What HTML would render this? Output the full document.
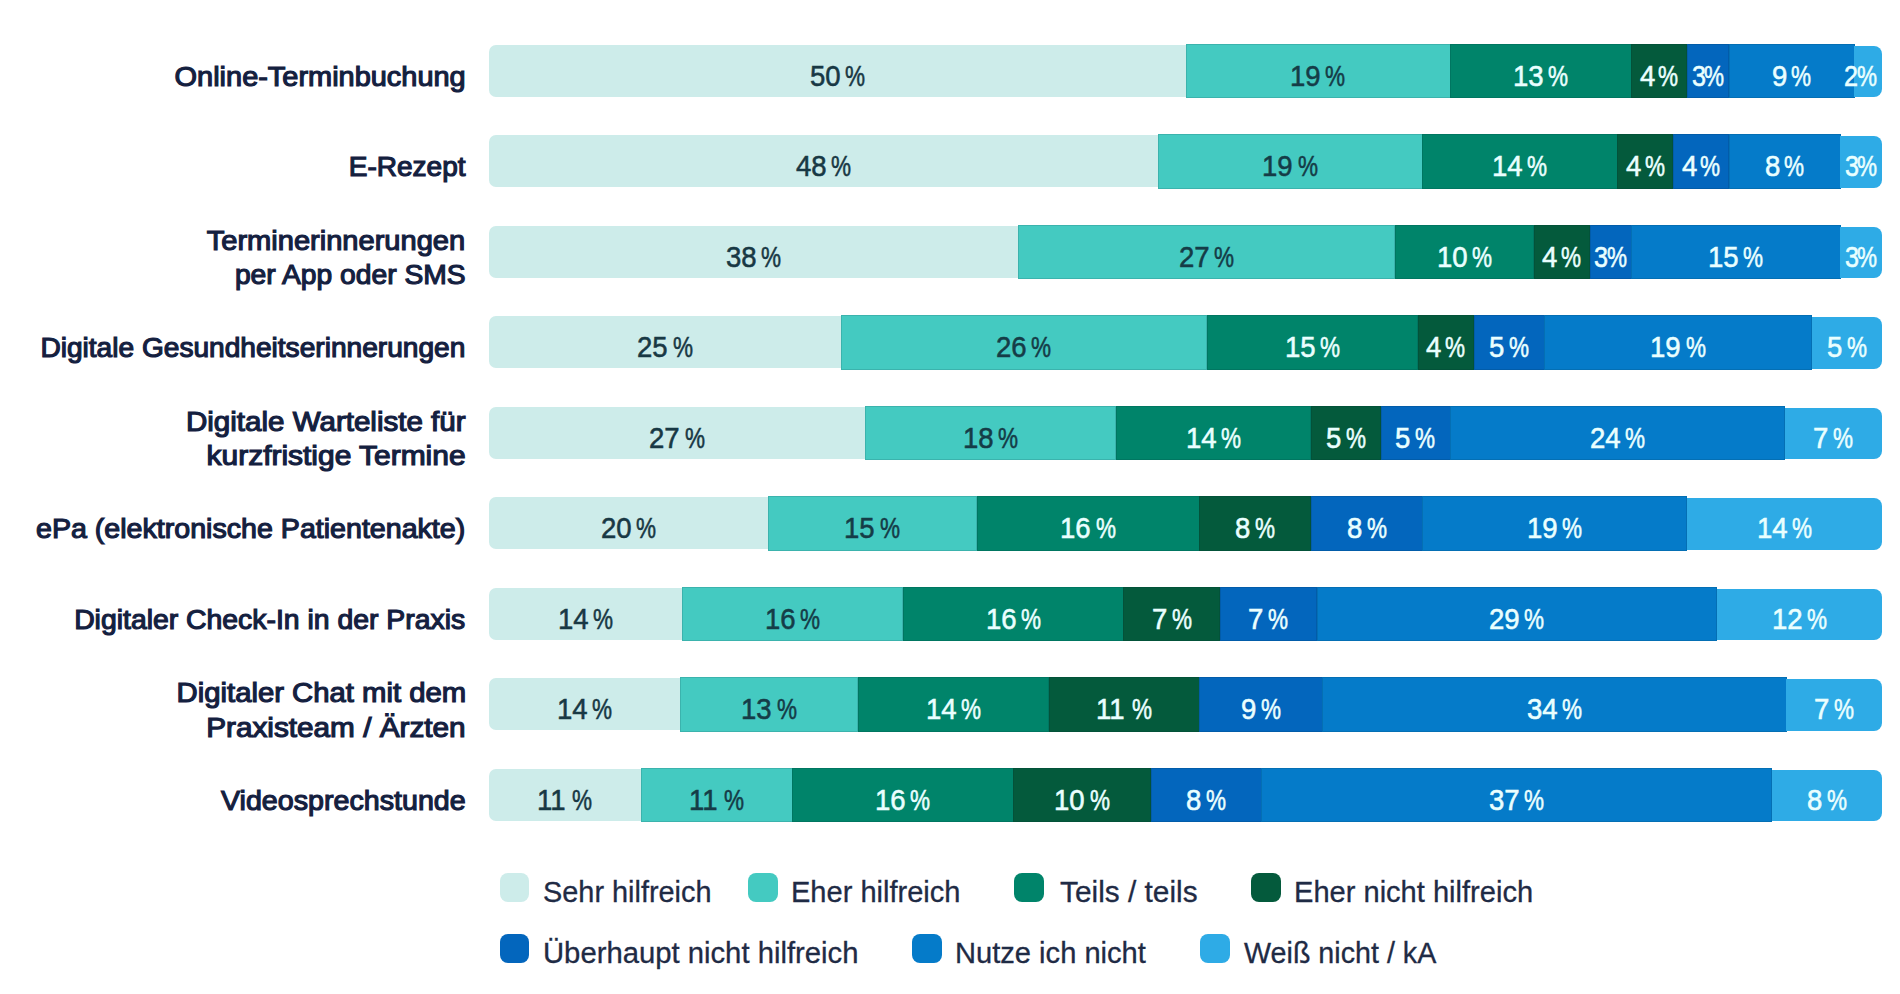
<!DOCTYPE html>
<html lang="de"><head><meta charset="utf-8"><title>Digitale Angebote</title>
<style>
html,body{margin:0;padding:0;background:#fff;}
body{width:1900px;height:994px;position:relative;overflow:hidden;font-family:"Liberation Sans",sans-serif;}
.seg{position:absolute;}
.n{position:absolute;-webkit-text-stroke:0.55px currentColor;white-space:nowrap;font-size:29.3px;line-height:34px;height:34px;transform-origin:0 50%;}
.lab{position:absolute;white-space:nowrap;font-weight:normal;-webkit-text-stroke:1.15px currentColor;color:#14203f;font-size:27.0px;line-height:34px;height:34px;text-align:right;right:1434.4px;transform-origin:100% 50%;}
.sw{position:absolute;width:29.5px;height:28.8px;border-radius:8px;}
.lt{position:absolute;white-space:nowrap;color:#1f2b45;font-size:28.6px;line-height:34px;height:34px;transform-origin:0 50%;-webkit-text-stroke:0.3px currentColor;}
</style></head><body>

<div class="lab" style="top:59.5px;transform:scaleX(1.0714)">Online-Terminbuchung</div>
<div class="seg" style="left:489.0px;top:44.9px;width:697.5px;height:52.1px;background:#cdecea;border-radius:7px 0 0 7px;"></div>
<div class="n" style="left:809.6px;top:58.8px;color:#183844;transform:scaleX(0.94)">50</div>
<div class="n" style="left:844.8px;top:58.8px;color:#183844;transform:scaleX(0.77)">%</div>
<div class="seg" style="left:1185.5px;top:43.7px;width:265.2px;height:54.7px;background:#44cac1;box-shadow:inset 0 0 0 1px rgba(0,30,40,.13);"></div>
<div class="n" style="left:1290.2px;top:58.8px;color:#153c47;transform:scaleX(0.94)">19</div>
<div class="n" style="left:1325.4px;top:58.8px;color:#153c47;transform:scaleX(0.77)">%</div>
<div class="seg" style="left:1450.2px;top:43.7px;width:181.6px;height:54.7px;background:#00846a;box-shadow:inset 0 0 0 1px rgba(0,30,40,.13);"></div>
<div class="n" style="left:1513.1px;top:58.8px;color:#eaffff;transform:scaleX(0.94)">13</div>
<div class="n" style="left:1548.3px;top:58.8px;color:#eaffff;transform:scaleX(0.77)">%</div>
<div class="seg" style="left:1631.3px;top:43.7px;width:56.2px;height:54.7px;background:#045a3c;box-shadow:inset 0 0 0 1px rgba(0,30,40,.13);"></div>
<div class="n" style="left:1639.7px;top:58.8px;color:#eaffff;transform:scaleX(0.94)">4</div>
<div class="n" style="left:1658.4px;top:58.8px;color:#eaffff;transform:scaleX(0.77)">%</div>
<div class="seg" style="left:1687.0px;top:43.7px;width:42.3px;height:54.7px;background:#0366bd;box-shadow:inset 0 0 0 1px rgba(0,30,40,.13);"></div>
<div class="n" style="left:1691.7px;top:58.8px;color:#eaffff;transform:scaleX(0.86)">3</div>
<div class="n" style="left:1704.0px;top:58.8px;color:#eaffff;transform:scaleX(0.77)">%</div>
<div class="seg" style="left:1728.8px;top:43.7px;width:125.9px;height:54.7px;background:#057bc9;box-shadow:inset 0 0 0 1px rgba(0,30,40,.13);"></div>
<div class="n" style="left:1771.5px;top:58.8px;color:#eaffff;transform:scaleX(0.94)">9</div>
<div class="n" style="left:1791.4px;top:58.8px;color:#eaffff;transform:scaleX(0.77)">%</div>
<div class="seg" style="left:1854.1px;top:45.6px;width:27.9px;height:51.6px;background:#2eabe6;border-radius:0 8px 8px 0;"></div>
<div class="n" style="left:1844.4px;top:58.8px;color:#eaffff;transform:scaleX(0.86)">2</div>
<div class="n" style="left:1856.7px;top:58.8px;color:#eaffff;transform:scaleX(0.77)">%</div>
<div class="lab" style="top:150.0px;transform:scaleX(1.0376)">E-Rezept</div>
<div class="seg" style="left:489.0px;top:135.4px;width:669.6px;height:52.1px;background:#cdecea;border-radius:7px 0 0 7px;"></div>
<div class="n" style="left:795.7px;top:149.3px;color:#183844;transform:scaleX(0.94)">48</div>
<div class="n" style="left:830.9px;top:149.3px;color:#183844;transform:scaleX(0.77)">%</div>
<div class="seg" style="left:1157.6px;top:134.2px;width:265.2px;height:54.7px;background:#44cac1;box-shadow:inset 0 0 0 1px rgba(0,30,40,.13);"></div>
<div class="n" style="left:1262.3px;top:149.3px;color:#153c47;transform:scaleX(0.94)">19</div>
<div class="n" style="left:1297.6px;top:149.3px;color:#153c47;transform:scaleX(0.77)">%</div>
<div class="seg" style="left:1422.3px;top:134.2px;width:195.5px;height:54.7px;background:#00846a;box-shadow:inset 0 0 0 1px rgba(0,30,40,.13);"></div>
<div class="n" style="left:1492.2px;top:149.3px;color:#eaffff;transform:scaleX(0.94)">14</div>
<div class="n" style="left:1527.4px;top:149.3px;color:#eaffff;transform:scaleX(0.77)">%</div>
<div class="seg" style="left:1617.3px;top:134.2px;width:56.2px;height:54.7px;background:#045a3c;box-shadow:inset 0 0 0 1px rgba(0,30,40,.13);"></div>
<div class="n" style="left:1625.8px;top:149.3px;color:#eaffff;transform:scaleX(0.94)">4</div>
<div class="n" style="left:1644.5px;top:149.3px;color:#eaffff;transform:scaleX(0.77)">%</div>
<div class="seg" style="left:1673.0px;top:134.2px;width:56.2px;height:54.7px;background:#0366bd;box-shadow:inset 0 0 0 1px rgba(0,30,40,.13);"></div>
<div class="n" style="left:1681.5px;top:149.3px;color:#eaffff;transform:scaleX(0.94)">4</div>
<div class="n" style="left:1700.2px;top:149.3px;color:#eaffff;transform:scaleX(0.77)">%</div>
<div class="seg" style="left:1728.8px;top:134.2px;width:111.9px;height:54.7px;background:#057bc9;box-shadow:inset 0 0 0 1px rgba(0,30,40,.13);"></div>
<div class="n" style="left:1764.5px;top:149.3px;color:#eaffff;transform:scaleX(0.94)">8</div>
<div class="n" style="left:1784.4px;top:149.3px;color:#eaffff;transform:scaleX(0.77)">%</div>
<div class="seg" style="left:1840.2px;top:136.1px;width:41.8px;height:51.6px;background:#2eabe6;border-radius:0 8px 8px 0;"></div>
<div class="n" style="left:1844.9px;top:149.3px;color:#eaffff;transform:scaleX(0.86)">3</div>
<div class="n" style="left:1857.2px;top:149.3px;color:#eaffff;transform:scaleX(0.77)">%</div>
<div class="lab" style="top:223.5px;transform:scaleX(1.076)">Terminerinnerungen</div>
<div class="lab" style="top:258.3px;transform:scaleX(1.0457)">per App oder SMS</div>
<div class="seg" style="left:489.0px;top:225.9px;width:530.3px;height:52.1px;background:#cdecea;border-radius:7px 0 0 7px;"></div>
<div class="n" style="left:726.0px;top:239.8px;color:#183844;transform:scaleX(0.94)">38</div>
<div class="n" style="left:761.3px;top:239.8px;color:#183844;transform:scaleX(0.77)">%</div>
<div class="seg" style="left:1018.3px;top:224.7px;width:376.6px;height:54.7px;background:#44cac1;box-shadow:inset 0 0 0 1px rgba(0,30,40,.13);"></div>
<div class="n" style="left:1178.8px;top:239.8px;color:#153c47;transform:scaleX(0.94)">27</div>
<div class="n" style="left:1214.0px;top:239.8px;color:#153c47;transform:scaleX(0.77)">%</div>
<div class="seg" style="left:1394.5px;top:224.7px;width:139.8px;height:54.7px;background:#00846a;box-shadow:inset 0 0 0 1px rgba(0,30,40,.13);"></div>
<div class="n" style="left:1436.5px;top:239.8px;color:#eaffff;transform:scaleX(0.94)">10</div>
<div class="n" style="left:1471.7px;top:239.8px;color:#eaffff;transform:scaleX(0.77)">%</div>
<div class="seg" style="left:1533.8px;top:224.7px;width:56.2px;height:54.7px;background:#045a3c;box-shadow:inset 0 0 0 1px rgba(0,30,40,.13);"></div>
<div class="n" style="left:1542.2px;top:239.8px;color:#eaffff;transform:scaleX(0.94)">4</div>
<div class="n" style="left:1560.9px;top:239.8px;color:#eaffff;transform:scaleX(0.77)">%</div>
<div class="seg" style="left:1589.5px;top:224.7px;width:42.3px;height:54.7px;background:#0366bd;box-shadow:inset 0 0 0 1px rgba(0,30,40,.13);"></div>
<div class="n" style="left:1594.2px;top:239.8px;color:#eaffff;transform:scaleX(0.86)">3</div>
<div class="n" style="left:1606.5px;top:239.8px;color:#eaffff;transform:scaleX(0.77)">%</div>
<div class="seg" style="left:1631.3px;top:224.7px;width:209.5px;height:54.7px;background:#057bc9;box-shadow:inset 0 0 0 1px rgba(0,30,40,.13);"></div>
<div class="n" style="left:1708.1px;top:239.8px;color:#eaffff;transform:scaleX(0.94)">15</div>
<div class="n" style="left:1743.3px;top:239.8px;color:#eaffff;transform:scaleX(0.77)">%</div>
<div class="seg" style="left:1840.2px;top:226.6px;width:41.8px;height:51.6px;background:#2eabe6;border-radius:0 8px 8px 0;"></div>
<div class="n" style="left:1844.9px;top:239.8px;color:#eaffff;transform:scaleX(0.86)">3</div>
<div class="n" style="left:1857.2px;top:239.8px;color:#eaffff;transform:scaleX(0.77)">%</div>
<div class="lab" style="top:331.0px;transform:scaleX(1.0407)">Digitale Gesundheitserinnerungen</div>
<div class="seg" style="left:489.0px;top:316.4px;width:352.8px;height:52.1px;background:#cdecea;border-radius:7px 0 0 7px;"></div>
<div class="n" style="left:637.2px;top:330.3px;color:#183844;transform:scaleX(0.94)">25</div>
<div class="n" style="left:672.5px;top:330.3px;color:#183844;transform:scaleX(0.77)">%</div>
<div class="seg" style="left:840.8px;top:315.2px;width:366.3px;height:54.7px;background:#44cac1;box-shadow:inset 0 0 0 1px rgba(0,30,40,.13);"></div>
<div class="n" style="left:996.0px;top:330.3px;color:#153c47;transform:scaleX(0.94)">26</div>
<div class="n" style="left:1031.3px;top:330.3px;color:#153c47;transform:scaleX(0.77)">%</div>
<div class="seg" style="left:1206.6px;top:315.2px;width:211.6px;height:54.7px;background:#00846a;box-shadow:inset 0 0 0 1px rgba(0,30,40,.13);"></div>
<div class="n" style="left:1284.5px;top:330.3px;color:#eaffff;transform:scaleX(0.94)">15</div>
<div class="n" style="left:1319.7px;top:330.3px;color:#eaffff;transform:scaleX(0.77)">%</div>
<div class="seg" style="left:1417.7px;top:315.2px;width:56.8px;height:54.7px;background:#045a3c;box-shadow:inset 0 0 0 1px rgba(0,30,40,.13);"></div>
<div class="n" style="left:1426.4px;top:330.3px;color:#eaffff;transform:scaleX(0.94)">4</div>
<div class="n" style="left:1445.1px;top:330.3px;color:#eaffff;transform:scaleX(0.77)">%</div>
<div class="seg" style="left:1473.9px;top:315.2px;width:70.9px;height:54.7px;background:#0366bd;box-shadow:inset 0 0 0 1px rgba(0,30,40,.13);"></div>
<div class="n" style="left:1489.1px;top:330.3px;color:#eaffff;transform:scaleX(0.94)">5</div>
<div class="n" style="left:1509.1px;top:330.3px;color:#eaffff;transform:scaleX(0.77)">%</div>
<div class="seg" style="left:1544.3px;top:315.2px;width:267.8px;height:54.7px;background:#057bc9;box-shadow:inset 0 0 0 1px rgba(0,30,40,.13);"></div>
<div class="n" style="left:1650.3px;top:330.3px;color:#eaffff;transform:scaleX(0.94)">19</div>
<div class="n" style="left:1685.6px;top:330.3px;color:#eaffff;transform:scaleX(0.77)">%</div>
<div class="seg" style="left:1811.6px;top:317.1px;width:70.4px;height:51.6px;background:#2eabe6;border-radius:0 8px 8px 0;"></div>
<div class="n" style="left:1826.8px;top:330.3px;color:#eaffff;transform:scaleX(0.94)">5</div>
<div class="n" style="left:1846.8px;top:330.3px;color:#eaffff;transform:scaleX(0.77)">%</div>
<div class="lab" style="top:404.5px;transform:scaleX(1.094)">Digitale Warteliste für</div>
<div class="lab" style="top:439.3px;transform:scaleX(1.1089)">kurzfristige Termine</div>
<div class="seg" style="left:489.0px;top:406.9px;width:377.1px;height:52.1px;background:#cdecea;border-radius:7px 0 0 7px;"></div>
<div class="n" style="left:649.4px;top:420.8px;color:#183844;transform:scaleX(0.94)">27</div>
<div class="n" style="left:684.6px;top:420.8px;color:#183844;transform:scaleX(0.77)">%</div>
<div class="seg" style="left:865.1px;top:405.7px;width:251.2px;height:54.7px;background:#44cac1;box-shadow:inset 0 0 0 1px rgba(0,30,40,.13);"></div>
<div class="n" style="left:962.8px;top:420.8px;color:#153c47;transform:scaleX(0.94)">18</div>
<div class="n" style="left:998.1px;top:420.8px;color:#153c47;transform:scaleX(0.77)">%</div>
<div class="seg" style="left:1115.8px;top:405.7px;width:195.5px;height:54.7px;background:#00846a;box-shadow:inset 0 0 0 1px rgba(0,30,40,.13);"></div>
<div class="n" style="left:1185.7px;top:420.8px;color:#eaffff;transform:scaleX(0.94)">14</div>
<div class="n" style="left:1220.9px;top:420.8px;color:#eaffff;transform:scaleX(0.77)">%</div>
<div class="seg" style="left:1310.9px;top:405.7px;width:70.2px;height:54.7px;background:#045a3c;box-shadow:inset 0 0 0 1px rgba(0,30,40,.13);"></div>
<div class="n" style="left:1325.7px;top:420.8px;color:#eaffff;transform:scaleX(0.94)">5</div>
<div class="n" style="left:1345.6px;top:420.8px;color:#eaffff;transform:scaleX(0.77)">%</div>
<div class="seg" style="left:1380.5px;top:405.7px;width:70.2px;height:54.7px;background:#0366bd;box-shadow:inset 0 0 0 1px rgba(0,30,40,.13);"></div>
<div class="n" style="left:1395.4px;top:420.8px;color:#eaffff;transform:scaleX(0.94)">5</div>
<div class="n" style="left:1415.3px;top:420.8px;color:#eaffff;transform:scaleX(0.77)">%</div>
<div class="seg" style="left:1450.2px;top:405.7px;width:334.8px;height:54.7px;background:#057bc9;box-shadow:inset 0 0 0 1px rgba(0,30,40,.13);"></div>
<div class="n" style="left:1589.7px;top:420.8px;color:#eaffff;transform:scaleX(0.94)">24</div>
<div class="n" style="left:1624.9px;top:420.8px;color:#eaffff;transform:scaleX(0.77)">%</div>
<div class="seg" style="left:1784.5px;top:407.6px;width:97.5px;height:51.6px;background:#2eabe6;border-radius:0 8px 8px 0;"></div>
<div class="n" style="left:1813.3px;top:420.8px;color:#eaffff;transform:scaleX(0.94)">7</div>
<div class="n" style="left:1833.2px;top:420.8px;color:#eaffff;transform:scaleX(0.77)">%</div>
<div class="lab" style="top:512.0px;transform:scaleX(1.0592)">ePa (elektronische Patientenakte)</div>
<div class="seg" style="left:489.0px;top:497.4px;width:279.6px;height:52.1px;background:#cdecea;border-radius:7px 0 0 7px;"></div>
<div class="n" style="left:600.7px;top:511.3px;color:#183844;transform:scaleX(0.94)">20</div>
<div class="n" style="left:635.9px;top:511.3px;color:#183844;transform:scaleX(0.77)">%</div>
<div class="seg" style="left:767.6px;top:496.2px;width:209.4px;height:54.7px;background:#44cac1;box-shadow:inset 0 0 0 1px rgba(0,30,40,.13);"></div>
<div class="n" style="left:844.4px;top:511.3px;color:#153c47;transform:scaleX(0.94)">15</div>
<div class="n" style="left:879.7px;top:511.3px;color:#153c47;transform:scaleX(0.77)">%</div>
<div class="seg" style="left:976.5px;top:496.2px;width:223.4px;height:54.7px;background:#00846a;box-shadow:inset 0 0 0 1px rgba(0,30,40,.13);"></div>
<div class="n" style="left:1060.3px;top:511.3px;color:#eaffff;transform:scaleX(0.94)">16</div>
<div class="n" style="left:1095.6px;top:511.3px;color:#eaffff;transform:scaleX(0.77)">%</div>
<div class="seg" style="left:1199.4px;top:496.2px;width:111.9px;height:54.7px;background:#045a3c;box-shadow:inset 0 0 0 1px rgba(0,30,40,.13);"></div>
<div class="n" style="left:1235.2px;top:511.3px;color:#eaffff;transform:scaleX(0.94)">8</div>
<div class="n" style="left:1255.1px;top:511.3px;color:#eaffff;transform:scaleX(0.77)">%</div>
<div class="seg" style="left:1310.9px;top:496.2px;width:111.9px;height:54.7px;background:#0366bd;box-shadow:inset 0 0 0 1px rgba(0,30,40,.13);"></div>
<div class="n" style="left:1346.6px;top:511.3px;color:#eaffff;transform:scaleX(0.94)">8</div>
<div class="n" style="left:1366.5px;top:511.3px;color:#eaffff;transform:scaleX(0.77)">%</div>
<div class="seg" style="left:1422.3px;top:496.2px;width:265.2px;height:54.7px;background:#057bc9;box-shadow:inset 0 0 0 1px rgba(0,30,40,.13);"></div>
<div class="n" style="left:1527.0px;top:511.3px;color:#eaffff;transform:scaleX(0.94)">19</div>
<div class="n" style="left:1562.2px;top:511.3px;color:#eaffff;transform:scaleX(0.77)">%</div>
<div class="seg" style="left:1687.0px;top:498.1px;width:195.0px;height:51.6px;background:#2eabe6;border-radius:0 8px 8px 0;"></div>
<div class="n" style="left:1756.8px;top:511.3px;color:#eaffff;transform:scaleX(0.94)">14</div>
<div class="n" style="left:1792.1px;top:511.3px;color:#eaffff;transform:scaleX(0.77)">%</div>
<div class="lab" style="top:602.5px;transform:scaleX(1.0507)">Digitaler Check-In in der Praxis</div>
<div class="seg" style="left:489.0px;top:587.9px;width:194.1px;height:52.1px;background:#cdecea;border-radius:7px 0 0 7px;"></div>
<div class="n" style="left:557.9px;top:601.8px;color:#183844;transform:scaleX(0.94)">14</div>
<div class="n" style="left:593.1px;top:601.8px;color:#183844;transform:scaleX(0.77)">%</div>
<div class="seg" style="left:682.1px;top:586.7px;width:221.2px;height:54.7px;background:#44cac1;box-shadow:inset 0 0 0 1px rgba(0,30,40,.13);"></div>
<div class="n" style="left:764.8px;top:601.8px;color:#153c47;transform:scaleX(0.94)">16</div>
<div class="n" style="left:800.0px;top:601.8px;color:#153c47;transform:scaleX(0.77)">%</div>
<div class="seg" style="left:902.8px;top:586.7px;width:221.2px;height:54.7px;background:#00846a;box-shadow:inset 0 0 0 1px rgba(0,30,40,.13);"></div>
<div class="n" style="left:985.5px;top:601.8px;color:#eaffff;transform:scaleX(0.94)">16</div>
<div class="n" style="left:1020.7px;top:601.8px;color:#eaffff;transform:scaleX(0.77)">%</div>
<div class="seg" style="left:1123.4px;top:586.7px;width:97.0px;height:54.7px;background:#045a3c;box-shadow:inset 0 0 0 1px rgba(0,30,40,.13);"></div>
<div class="n" style="left:1151.7px;top:601.8px;color:#eaffff;transform:scaleX(0.94)">7</div>
<div class="n" style="left:1171.6px;top:601.8px;color:#eaffff;transform:scaleX(0.77)">%</div>
<div class="seg" style="left:1220.0px;top:586.7px;width:97.0px;height:54.7px;background:#0366bd;box-shadow:inset 0 0 0 1px rgba(0,30,40,.13);"></div>
<div class="n" style="left:1248.3px;top:601.8px;color:#eaffff;transform:scaleX(0.94)">7</div>
<div class="n" style="left:1268.2px;top:601.8px;color:#eaffff;transform:scaleX(0.77)">%</div>
<div class="seg" style="left:1316.5px;top:586.7px;width:400.5px;height:54.7px;background:#057bc9;box-shadow:inset 0 0 0 1px rgba(0,30,40,.13);"></div>
<div class="n" style="left:1488.9px;top:601.8px;color:#eaffff;transform:scaleX(0.94)">29</div>
<div class="n" style="left:1524.1px;top:601.8px;color:#eaffff;transform:scaleX(0.77)">%</div>
<div class="seg" style="left:1716.5px;top:588.6px;width:165.5px;height:51.6px;background:#2eabe6;border-radius:0 8px 8px 0;"></div>
<div class="n" style="left:1771.6px;top:601.8px;color:#eaffff;transform:scaleX(0.94)">12</div>
<div class="n" style="left:1806.8px;top:601.8px;color:#eaffff;transform:scaleX(0.77)">%</div>
<div class="lab" style="top:676.0px;transform:scaleX(1.0838)">Digitaler Chat mit dem</div>
<div class="lab" style="top:710.8px;transform:scaleX(1.1012)">Praxisteam / Ärzten</div>
<div class="seg" style="left:489.0px;top:678.4px;width:192.2px;height:52.1px;background:#cdecea;border-radius:7px 0 0 7px;"></div>
<div class="n" style="left:557.0px;top:692.3px;color:#183844;transform:scaleX(0.94)">14</div>
<div class="n" style="left:592.2px;top:692.3px;color:#183844;transform:scaleX(0.77)">%</div>
<div class="seg" style="left:680.2px;top:677.2px;width:178.0px;height:54.7px;background:#44cac1;box-shadow:inset 0 0 0 1px rgba(0,30,40,.13);"></div>
<div class="n" style="left:741.3px;top:692.3px;color:#153c47;transform:scaleX(0.94)">13</div>
<div class="n" style="left:776.6px;top:692.3px;color:#153c47;transform:scaleX(0.77)">%</div>
<div class="seg" style="left:857.7px;top:677.2px;width:191.7px;height:54.7px;background:#00846a;box-shadow:inset 0 0 0 1px rgba(0,30,40,.13);"></div>
<div class="n" style="left:925.7px;top:692.3px;color:#eaffff;transform:scaleX(0.94)">14</div>
<div class="n" style="left:960.9px;top:692.3px;color:#eaffff;transform:scaleX(0.77)">%</div>
<div class="seg" style="left:1048.9px;top:677.2px;width:150.7px;height:54.7px;background:#045a3c;box-shadow:inset 0 0 0 1px rgba(0,30,40,.13);"></div>
<div class="n" style="left:1096.4px;top:692.3px;color:#eaffff;transform:scaleX(0.94)">11</div>
<div class="n" style="left:1131.6px;top:692.3px;color:#eaffff;transform:scaleX(0.77)">%</div>
<div class="seg" style="left:1199.2px;top:677.2px;width:123.4px;height:54.7px;background:#0366bd;box-shadow:inset 0 0 0 1px rgba(0,30,40,.13);"></div>
<div class="n" style="left:1240.6px;top:692.3px;color:#eaffff;transform:scaleX(0.94)">9</div>
<div class="n" style="left:1260.5px;top:692.3px;color:#eaffff;transform:scaleX(0.77)">%</div>
<div class="seg" style="left:1322.1px;top:677.2px;width:464.8px;height:54.7px;background:#057bc9;box-shadow:inset 0 0 0 1px rgba(0,30,40,.13);"></div>
<div class="n" style="left:1526.6px;top:692.3px;color:#eaffff;transform:scaleX(0.94)">34</div>
<div class="n" style="left:1561.8px;top:692.3px;color:#eaffff;transform:scaleX(0.77)">%</div>
<div class="seg" style="left:1786.4px;top:679.1px;width:95.6px;height:51.6px;background:#2eabe6;border-radius:0 8px 8px 0;"></div>
<div class="n" style="left:1814.2px;top:692.3px;color:#eaffff;transform:scaleX(0.94)">7</div>
<div class="n" style="left:1834.1px;top:692.3px;color:#eaffff;transform:scaleX(0.77)">%</div>
<div class="lab" style="top:783.5px;transform:scaleX(1.0609)">Videosprechstunde</div>
<div class="seg" style="left:489.0px;top:768.9px;width:152.7px;height:52.1px;background:#cdecea;border-radius:7px 0 0 7px;"></div>
<div class="n" style="left:537.2px;top:782.8px;color:#183844;transform:scaleX(0.94)">11</div>
<div class="n" style="left:572.4px;top:782.8px;color:#183844;transform:scaleX(0.77)">%</div>
<div class="seg" style="left:640.7px;top:767.7px;width:152.2px;height:54.7px;background:#44cac1;box-shadow:inset 0 0 0 1px rgba(0,30,40,.13);"></div>
<div class="n" style="left:688.9px;top:782.8px;color:#153c47;transform:scaleX(0.94)">11</div>
<div class="n" style="left:724.2px;top:782.8px;color:#153c47;transform:scaleX(0.77)">%</div>
<div class="seg" style="left:792.4px;top:767.7px;width:221.2px;height:54.7px;background:#00846a;box-shadow:inset 0 0 0 1px rgba(0,30,40,.13);"></div>
<div class="n" style="left:875.1px;top:782.8px;color:#eaffff;transform:scaleX(0.94)">16</div>
<div class="n" style="left:910.3px;top:782.8px;color:#eaffff;transform:scaleX(0.77)">%</div>
<div class="seg" style="left:1013.1px;top:767.7px;width:138.4px;height:54.7px;background:#045a3c;box-shadow:inset 0 0 0 1px rgba(0,30,40,.13);"></div>
<div class="n" style="left:1054.4px;top:782.8px;color:#eaffff;transform:scaleX(0.94)">10</div>
<div class="n" style="left:1089.6px;top:782.8px;color:#eaffff;transform:scaleX(0.77)">%</div>
<div class="seg" style="left:1151.0px;top:767.7px;width:110.8px;height:54.7px;background:#0366bd;box-shadow:inset 0 0 0 1px rgba(0,30,40,.13);"></div>
<div class="n" style="left:1186.2px;top:782.8px;color:#eaffff;transform:scaleX(0.94)">8</div>
<div class="n" style="left:1206.1px;top:782.8px;color:#eaffff;transform:scaleX(0.77)">%</div>
<div class="seg" style="left:1261.4px;top:767.7px;width:510.8px;height:54.7px;background:#057bc9;box-shadow:inset 0 0 0 1px rgba(0,30,40,.13);"></div>
<div class="n" style="left:1488.9px;top:782.8px;color:#eaffff;transform:scaleX(0.94)">37</div>
<div class="n" style="left:1524.1px;top:782.8px;color:#eaffff;transform:scaleX(0.77)">%</div>
<div class="seg" style="left:1771.7px;top:769.6px;width:110.3px;height:51.6px;background:#2eabe6;border-radius:0 8px 8px 0;"></div>
<div class="n" style="left:1806.8px;top:782.8px;color:#eaffff;transform:scaleX(0.94)">8</div>
<div class="n" style="left:1826.8px;top:782.8px;color:#eaffff;transform:scaleX(0.77)">%</div>
<div class="sw" style="left:499.7px;top:873.4px;background:#cdecea"></div>
<div class="lt" style="left:542.6px;top:875.3px;transform:scaleX(1.0098)">Sehr hilfreich</div>
<div class="sw" style="left:748.2px;top:873.4px;background:#44cac1"></div>
<div class="lt" style="left:790.8px;top:875.3px;transform:scaleX(1.0153)">Eher hilfreich</div>
<div class="sw" style="left:1014.1px;top:873.4px;background:#00846a"></div>
<div class="lt" style="left:1059.8px;top:875.3px;transform:scaleX(1.0431)">Teils / teils</div>
<div class="sw" style="left:1251.4px;top:873.4px;background:#045a3c"></div>
<div class="lt" style="left:1294.4px;top:875.3px;transform:scaleX(1.0164)">Eher nicht hilfreich</div>
<div class="sw" style="left:499.7px;top:934.1px;background:#0366bd"></div>
<div class="lt" style="left:542.6px;top:936.0px;transform:scaleX(1.023)">Überhaupt nicht hilfreich</div>
<div class="sw" style="left:912.4px;top:934.1px;background:#057bc9"></div>
<div class="lt" style="left:955.2px;top:936.0px;transform:scaleX(1.0178)">Nutze ich nicht</div>
<div class="sw" style="left:1200.4px;top:934.1px;background:#2eabe6"></div>
<div class="lt" style="left:1244.2px;top:936.0px;transform:scaleX(1.0031)">Weiß nicht / kA</div>
</body></html>
